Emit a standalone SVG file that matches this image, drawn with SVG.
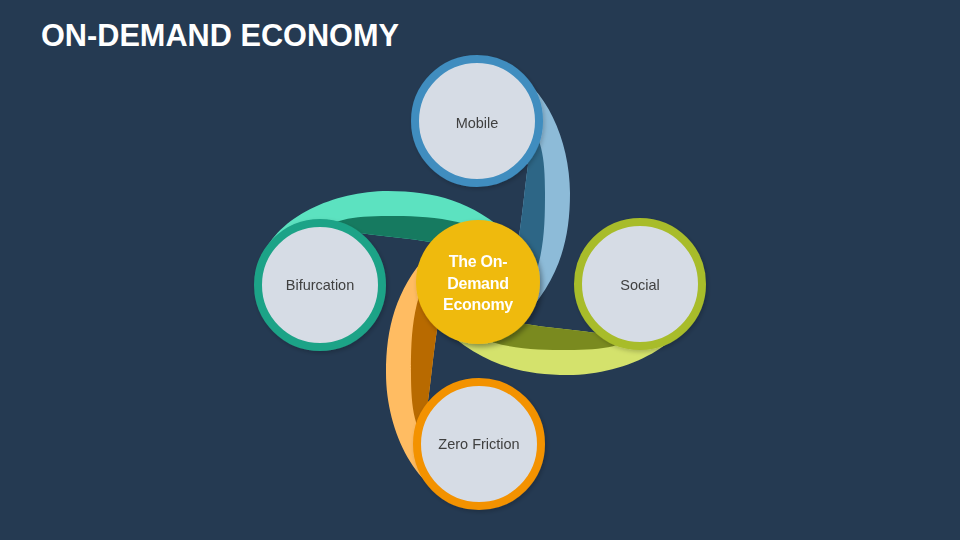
<svg xmlns="http://www.w3.org/2000/svg" width="960" height="540" viewBox="0 0 960 540">
  <defs>
    <style>
      .title { font-family: "Liberation Sans", Arial, sans-serif; font-weight: bold; font-size: 30.5px; fill: #FFFFFF; }
      .node-fill { fill: #D6DCE5; stroke-width: 8; }
      .label { font-family: "Liberation Sans", Arial, sans-serif; font-size: 14.5px; fill: #404040; text-anchor: middle; }
      .center-label { font-family: "Liberation Sans", Arial, sans-serif; font-weight: bold; font-size: 16px; letter-spacing: -0.3px; fill: #FFFFFF; text-anchor: middle; }
    </style>
    <filter id="shadow" x="-30%" y="-30%" width="160%" height="160%">
      <feDropShadow dx="2.5" dy="3" stdDeviation="2.5" flood-color="#000000" flood-opacity="0.35"/>
    </filter>
    <filter id="nshadow" x="-30%" y="-30%" width="160%" height="160%">
      <feDropShadow dx="1.5" dy="2" stdDeviation="2" flood-color="#000000" flood-opacity="0.2"/>
    </filter>
    <path id="swoosh-light" d="M 15,-218 C 60,-212 92,-150 92,-90 C 92,-40 80,0 40,40 L 25,0 L 38,-30 C 44,-60 46,-90 50,-118 L 30,-170 Z"/>
    <path id="swoosh-dark" d="M 45,-165 C 64,-150 67,-125 67,-90 C 67,-50 66,-5 35,30 L 25,0 L 38,-30 C 44,-60 46,-90 50,-118 Z"/>
  </defs>

  <rect x="0" y="0" width="960" height="540" fill="#253A52"/>

  <text class="title" x="41" y="46" textLength="358" lengthAdjust="spacingAndGlyphs">ON-DEMAND ECONOMY</text>

  <g id="connectors">
    <g id="swoosh-mobile" transform="translate(478,283)">
      <use href="#swoosh-light" fill="#8DBBD8"/>
      <use href="#swoosh-dark" fill="#2D6686"/>
    </g>
    <g id="swoosh-social" transform="translate(478,283) rotate(90)">
      <use href="#swoosh-light" fill="#D4E26C"/>
      <use href="#swoosh-dark" fill="#7A8A1F"/>
    </g>
    <g id="swoosh-zero-friction" transform="translate(478,283) rotate(180)">
      <use href="#swoosh-light" fill="#FFBC62"/>
      <use href="#swoosh-dark" fill="#B86A00"/>
    </g>
    <g id="swoosh-bifurcation" transform="translate(478,283) rotate(270)">
      <use href="#swoosh-light" fill="#5CE2C0"/>
      <use href="#swoosh-dark" fill="#167A60"/>
    </g>
  </g>

  <g id="node-mobile" filter="url(#nshadow)">
    <circle class="node-fill" cx="477" cy="121" r="62" stroke="#3F8DBF"/>
    <text class="label" x="477" y="128">Mobile</text>
  </g>

  <g id="node-social" filter="url(#nshadow)">
    <circle class="node-fill" cx="640" cy="284" r="62" stroke="#A8BC2A"/>
    <text class="label" x="640" y="290">Social</text>
  </g>

  <g id="node-zero-friction" filter="url(#nshadow)">
    <circle class="node-fill" cx="479" cy="444" r="62" stroke="#F39200"/>
    <text class="label" x="479" y="449">Zero Friction</text>
  </g>

  <g id="node-bifurcation" filter="url(#nshadow)">
    <circle class="node-fill" cx="320" cy="285" r="62" stroke="#1FA387"/>
    <text class="label" x="320" y="290">Bifurcation</text>
  </g>

  <g id="node-center" filter="url(#shadow)">
    <circle cx="478" cy="282" r="62" fill="#EFBA0D"/>
    <text class="center-label" x="478" y="267">The On-</text>
    <text class="center-label" x="478" y="288.5">Demand</text>
    <text class="center-label" x="478" y="310">Economy</text>
  </g>
</svg>
